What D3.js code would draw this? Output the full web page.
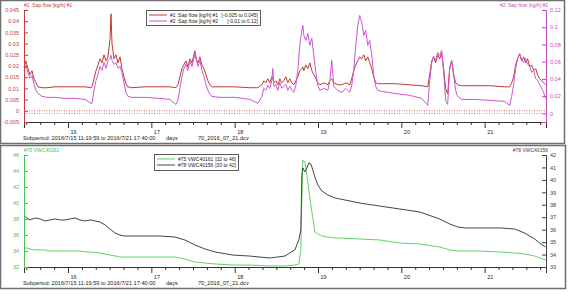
<!DOCTYPE html>
<html>
<head>
<meta charset="utf-8">
<script src="https://cdn.jsdelivr.net/npm/d3@7"></script>
<style>
body { margin: 0; background: #fff; }
svg text { font-family: "Liberation Sans", Arial, sans-serif; }
</style>
</head>
<body>
<div id="chart"></div>
<script>
// ---- data (time in days of July 2016, e.g. 16.5 = 16th 12:00) ----
const periodStart = 15.472;   // 2016/7/15 11:19:59
const periodEnd = 21.736;     // 2016/7/21 17:40:00
const dayLabels = [16, 17, 18, 19, 20, 21];

// sap flow, both sensors on the same timestamps
const sapDays = [
  15.472, 15.496, 15.520, 15.544, 15.568, 15.592, 15.616, 15.640, 15.688, 15.748, 15.844, 15.964, 16.084, 16.204, 16.276,
  16.288, 16.312, 16.336, 16.360, 16.384, 16.408, 16.432, 16.456, 16.480, 16.504, 16.516, 16.528, 16.552, 16.576, 16.600, 16.624, 16.647, 16.671, 16.695, 16.719,
  16.767, 16.923, 17.103, 17.223, 17.295,
  17.319, 17.343, 17.367, 17.391, 17.415, 17.439, 17.463, 17.487, 17.511, 17.523, 17.535, 17.559, 17.583, 17.607, 17.631, 17.655, 17.679, 17.703, 17.727,
  17.823, 18.002, 18.182, 18.278,
  18.326, 18.350, 18.374, 18.398, 18.422, 18.446, 18.458, 18.470, 18.494, 18.518, 18.542, 18.566, 18.590, 18.614, 18.638, 18.662, 18.686, 18.710, 18.734, 18.758,
  18.782, 18.806, 18.818, 18.830, 18.854, 18.878, 18.902, 18.926, 18.950, 18.974, 18.998, 19.022, 19.070, 19.118, 19.142, 19.165, 19.189, 19.237, 19.285, 19.333, 19.381, 19.405,
  19.429, 19.453, 19.477, 19.501, 19.525, 19.549, 19.573, 19.597, 19.621, 19.645, 19.669, 19.693, 19.717,
  19.765, 19.921, 20.101, 20.245, 20.317,
  20.341, 20.365, 20.388, 20.412, 20.436, 20.460, 20.484, 20.508, 20.532, 20.556, 20.580, 20.604, 20.628, 20.652, 20.676, 20.724,
  20.880, 21.060, 21.240, 21.300,
  21.324, 21.348, 21.372, 21.396, 21.420, 21.444, 21.468, 21.492, 21.516, 21.540, 21.564, 21.588, 21.612, 21.635, 21.659, 21.683, 21.707, 21.731
];
const sap1 = [
  0.0196, 0.0223, 0.0188, 0.0161, 0.0179, 0.0143, 0.0125, 0.0107, 0.0103, 0.0103, 0.0107, 0.0107, 0.0107, 0.0107, 0.0103,
  0.0107, 0.0143, 0.0179, 0.0205, 0.0232, 0.0214, 0.0250, 0.0223, 0.0241, 0.0321, 0.0433, 0.0299, 0.0232, 0.0250, 0.0214, 0.0241, 0.0188, 0.0152, 0.0121, 0.0107,
  0.0103, 0.0107, 0.0107, 0.0107, 0.0103,
  0.0116, 0.0152, 0.0188, 0.0205, 0.0223, 0.0196, 0.0232, 0.0214, 0.0250, 0.0268, 0.0232, 0.0214, 0.0241, 0.0205, 0.0188, 0.0161, 0.0134, 0.0116, 0.0107,
  0.0107, 0.0107, 0.0103, 0.0103,
  0.0116, 0.0134, 0.0125, 0.0143, 0.0125, 0.0152, 0.0143, 0.0125, 0.0134, 0.0116, 0.0143, 0.0125, 0.0134, 0.0152, 0.0125, 0.0143, 0.0125, 0.0116, 0.0134, 0.0152,
  0.0179, 0.0188, 0.0196, 0.0179, 0.0205, 0.0188, 0.0214, 0.0179, 0.0161, 0.0143, 0.0125, 0.0116, 0.0125, 0.0116, 0.0134, 0.0143, 0.0125, 0.0116, 0.0116, 0.0125, 0.0116, 0.0143,
  0.0179, 0.0205, 0.0223, 0.0241, 0.0232, 0.0250, 0.0223, 0.0241, 0.0214, 0.0188, 0.0152, 0.0125, 0.0121,
  0.0121, 0.0121, 0.0116, 0.0112, 0.0107,
  0.0165, 0.0223, 0.0241, 0.0214, 0.0250, 0.0232, 0.0259, 0.0188, 0.0098, 0.0076, 0.0188, 0.0223, 0.0161, 0.0125, 0.0116, 0.0112,
  0.0112, 0.0112, 0.0107, 0.0107,
  0.0125, 0.0152, 0.0205, 0.0232, 0.0254, 0.0223, 0.0241, 0.0214, 0.0232, 0.0196, 0.0205, 0.0179, 0.0188, 0.0161, 0.0143, 0.0134, 0.0125, 0.0116
];
const sap2 = [
  0.0499, 0.0557, 0.0476, 0.0406, 0.0441, 0.0336, 0.0267, 0.0232, 0.0197, 0.0186, 0.0186, 0.0174, 0.0174, 0.0162, 0.0116,
  0.0116, 0.0267, 0.0383, 0.0452, 0.0545, 0.0499, 0.0592, 0.0522, 0.0615, 0.0638, 0.0673, 0.0615, 0.0568, 0.0592, 0.0522, 0.0545, 0.0476, 0.0360, 0.0244, 0.0197,
  0.0186, 0.0186, 0.0174, 0.0162, 0.0104,
  0.0151, 0.0290, 0.0429, 0.0522, 0.0568, 0.0499, 0.0615, 0.0545, 0.0638, 0.0708, 0.0661, 0.0545, 0.0615, 0.0499, 0.0429, 0.0336, 0.0267, 0.0220, 0.0197,
  0.0186, 0.0186, 0.0162, 0.0116,
  0.0197, 0.0290, 0.0267, 0.0325, 0.0290, 0.0383, 0.0522, 0.0313, 0.0336, 0.0267, 0.0360, 0.0290, 0.0313, 0.0336, 0.0267, 0.0313, 0.0267, 0.0244, 0.0325, 0.0499,
  0.0789, 0.0963, 0.1021, 0.0905, 0.0847, 0.0928, 0.0789, 0.0870, 0.0673, 0.0476, 0.0325, 0.0267, 0.0290, 0.0267, 0.0383, 0.0615, 0.0313, 0.0267, 0.0244, 0.0290, 0.0244, 0.0325,
  0.0499, 0.0789, 0.1021, 0.1137, 0.1056, 0.0905, 0.0963, 0.0789, 0.0847, 0.0673, 0.0441, 0.0313, 0.0267,
  0.0255, 0.0232, 0.0209, 0.0174, 0.0093,
  0.0383, 0.0592, 0.0661, 0.0615, 0.0708, 0.0673, 0.0731, 0.0476, 0.0151, 0.0104, 0.0522, 0.0615, 0.0452, 0.0267, 0.0197, 0.0162,
  0.0162, 0.0151, 0.0139, 0.0093,
  0.0197, 0.0336, 0.0522, 0.0638, 0.0696, 0.0615, 0.0592, 0.0638, 0.0568, 0.0545, 0.0476, 0.0499, 0.0406, 0.0383, 0.0336, 0.0290, 0.0244, 0.0174
];

// soil water content, both sensors on the same timestamps
const vwcDays = [
  15.472, 15.508, 15.544, 15.604, 15.664, 15.724, 15.784, 15.844, 15.904, 15.964, 16.024, 16.084, 16.144, 16.204, 16.264,
  16.384, 16.444, 16.504, 16.564, 16.624, 16.683, 16.863, 17.103, 17.283, 17.403, 17.523, 17.643, 17.763, 17.978, 18.182,
  18.422, 18.602, 18.722, 18.770, 18.794, 18.806, 18.818, 18.842, 18.866, 18.890, 18.914, 18.938, 18.962, 18.998, 19.046,
  19.118, 19.201, 19.261, 19.501, 19.741, 19.981, 20.221, 20.460, 20.580, 20.676, 20.760, 20.940, 21.180, 21.360, 21.480,
  21.600, 21.659, 21.731
];
const vwc75 = [
  34.38, 34.38, 34.25, 34.13, 34.13, 34.13, 34.00, 34.00, 34.00, 34.00, 34.00, 34.00, 34.00, 33.88, 33.88,
  33.75, 33.63, 33.50, 33.38, 33.25, 33.25, 33.25, 33.25, 33.25, 33.00, 32.63, 32.50, 32.38, 32.25, 32.25,
  32.13, 32.13, 32.25, 32.38, 34.13, 40.38, 45.38, 45.13, 43.50, 41.63, 39.75, 38.13, 36.38, 36.13, 35.88,
  35.75, 35.63, 35.63, 35.50, 35.38, 35.00, 34.88, 34.50, 34.13, 34.00, 34.00, 34.00, 33.88, 33.75, 33.63,
  33.38, 33.13, 32.88
];
const vwc78 = [
  37.10, 36.94, 36.78, 36.94, 36.86, 36.70, 36.78, 36.86, 36.78, 36.78, 36.86, 36.94, 36.78, 36.70, 36.78,
  36.62, 36.38, 36.05, 35.73, 35.57, 35.49, 35.49, 35.49, 35.41, 35.17, 34.77, 34.45, 34.21, 33.96, 33.88,
  33.72, 33.88, 34.37, 35.17, 35.97, 40.40, 40.96, 40.64, 40.96, 41.36, 41.28, 40.80, 40.23, 39.59, 39.11,
  38.79, 38.55, 38.47, 38.14, 37.90, 37.66, 37.42, 36.86, 36.46, 36.22, 36.14, 36.14, 36.14, 36.05, 35.73,
  35.25, 34.93, 34.61
];

const sapLeftTicks = [-0.005, 0, 0.005, 0.01, 0.015, 0.02, 0.025, 0.03, 0.035, 0.04, 0.045];
const sapRightTicks = [0, 0.02, 0.04, 0.06, 0.08, 0.1, 0.12];
const vwcLeftTicks = [32, 34, 36, 38, 40, 42, 44, 46];
const vwcRightTicks = [33, 34, 35, 36, 37, 38, 39, 40, 41, 42];

const subperiod = "Subperiod: 2016/7/15 11:19:59 to 2016/7/21 17:40:00";
const fileName = "70_2016_07_21.dcv";

// ---- drawing ----
const W = 572, H = 294;
const svg = d3.select("#chart").append("svg").attr("width", W).attr("height", H);

const x = d3.scaleLinear().domain([periodStart, periodEnd]).range([24, 546]);
// 4 hour minor ticks, 15th 12:00 .. 21st 16:00
const minorTicks = d3.range(93, 131).filter(i => i % 6 != 0).map(i => i / 6);
const fmt = d => String(+d.toFixed(3));

const panels = [
  {
    frame: [0.5, 0.5, 564, 143], top: 10, bottom: 122,
    left: { domain: [-0.005, 0.045], ticks: sapLeftTicks, color: "#c83c3c", title: "#1 :Sap flow [kg/h] #1" },
    right: { domain: [-0.01, 0.12], ticks: sapRightTicks, color: "#c04ec0", title: "#2 :Sap flow [kg/h] #2" },
    series: [
      { days: sapDays, values: sap1, axis: "left", color: "#c03a30", name: "#1 :Sap flow [kg/h] #1", range: "[-0.005 to 0.045]" },
      { days: sapDays, values: sap2, axis: "right", color: "#cc55d4", name: "#2 :Sap flow [kg/h] #2", range: "[-0.01 to 0.12]" }
    ],
    zeroLines: true,
    legend: { x: 146, y: 10, w: 114, h: 15, line: 18 }
  },
  {
    frame: [0.5, 145.5, 565, 143], top: 155, bottom: 267,
    left: { domain: [32, 46], ticks: vwcLeftTicks, color: "#4cc24c", title: "#75 VWC40161" },
    right: { domain: [33, 42], ticks: vwcRightTicks, color: "#404040", title: "#78 VWC40156" },
    series: [
      { days: vwcDays, values: vwc75, axis: "left", color: "#5fd35f", name: "#75 VWC40161", range: "[32 to 46]" },
      { days: vwcDays, values: vwc78, axis: "right", color: "#454545", name: "#78 VWC40156", range: "[33 to 42]" }
    ],
    zeroLines: false,
    legend: { x: 154, y: 154, w: 84, h: 16, line: 18 }
  }
];

panels.forEach(p => {
  const g = svg.append("g");
  g.append("rect")
    .attr("x", p.frame[0]).attr("y", p.frame[1])
    .attr("width", p.frame[2]).attr("height", p.frame[3])
    .attr("fill", "#fff").attr("stroke", "#6e6e6e").attr("stroke-width", 1.5);

  const yL = d3.scaleLinear().domain(p.left.domain).range([p.bottom, p.top]);
  const yR = d3.scaleLinear().domain(p.right.domain).range([p.bottom, p.top]);

  // dotted zero lines
  if (p.zeroLines) {
    [[yL, p.left.color], [yR, p.right.color]].forEach(z => {
      g.append("line")
        .attr("x1", 24).attr("x2", 546)
        .attr("y1", z[0](0)).attr("y2", z[0](0))
        .attr("stroke", z[1]).attr("stroke-width", 0.8)
        .attr("stroke-dasharray", "1,1.5");
    });
  }

  // series
  p.series.forEach(s => {
    const y = s.axis == "left" ? yL : yR;
    const line = d3.line().x(d => x(d[0])).y(d => y(d[1]));
    g.append("path")
      .datum(d3.zip(s.days, s.values))
      .attr("fill", "none")
      .attr("stroke", s.color)
      .attr("stroke-width", 1)
      .attr("d", line);
  });

  // x axis
  const xAxisMinor = d3.axisBottom(x).tickValues(minorTicks).tickSize(3).tickFormat("");
  g.append("g").attr("transform", `translate(0,${p.bottom})`).call(xAxisMinor);
  const xAxis = d3.axisBottom(x).tickValues(dayLabels).tickSize(6).tickPadding(2).tickFormat(d => d);
  const xa = g.append("g").attr("transform", `translate(0,${p.bottom})`).call(xAxis);
  xa.selectAll("text").attr("text-anchor", "start").attr("x", 2).attr("font-size", 5.5).attr("fill", "#222");
  g.selectAll(".domain").attr("stroke", "#333");
  g.selectAll(".tick line").attr("stroke", "#333");

  // y axes, ticks inside
  const la = g.append("g").attr("transform", "translate(24,0)")
    .call(d3.axisLeft(yL).tickValues(p.left.ticks).tickSize(-4).tickPadding(5).tickFormat(fmt));
  const ra = g.append("g").attr("transform", "translate(546,0)")
    .call(d3.axisRight(yR).tickValues(p.right.ticks).tickSize(-4).tickPadding(4).tickFormat(fmt));
  [[la, p.left.color], [ra, p.right.color]].forEach(a => {
    a[0].select(".domain").attr("stroke", a[1]);
    a[0].selectAll(".tick line").attr("stroke", a[1]);
    a[0].selectAll("text").attr("fill", a[1]).attr("font-size", 5.5);
  });

  // axis titles
  g.append("text").attr("x", 24).attr("y", p.top - 3)
    .attr("font-size", 5).attr("fill", p.left.color).text(p.left.title);
  g.append("text").attr("x", 548).attr("y", p.top - 3).attr("text-anchor", "end")
    .attr("font-size", 5).attr("fill", p.right.color).text(p.right.title);

  // footer
  g.append("text").attr("x", 23).attr("y", p.bottom + 18)
    .attr("font-size", 5.6).attr("fill", "#222").text(subperiod);
  g.append("text").attr("x", 166).attr("y", p.bottom + 18)
    .attr("font-size", 5.6).attr("fill", "#222").text("days");
  g.append("text").attr("x", 198).attr("y", p.bottom + 18)
    .attr("font-size", 5.6).attr("fill", "#222").text(fileName);

  // legend
  const L = p.legend;
  const lg = g.append("g");
  lg.append("rect").attr("x", L.x + 0.5).attr("y", L.y + 0.5).attr("width", L.w).attr("height", L.h)
    .attr("fill", "#fff").attr("stroke", "#333").attr("stroke-width", 0.8);
  p.series.forEach((s, i) => {
    const ly = L.y + 5 + i * 6;
    lg.append("line").attr("x1", L.x + 3).attr("x2", L.x + 3 + L.line)
      .attr("y1", ly).attr("y2", ly).attr("stroke", s.color);
    lg.append("text").attr("x", L.x + 6 + L.line).attr("y", ly + 2)
      .attr("font-size", 5).attr("fill", "#222").text(s.name);
    lg.append("text").attr("x", L.x + L.w - 2).attr("y", ly + 2).attr("text-anchor", "end")
      .attr("font-size", 5).attr("fill", "#222").text(s.range);
  });
});
</script>
</body>
</html>
